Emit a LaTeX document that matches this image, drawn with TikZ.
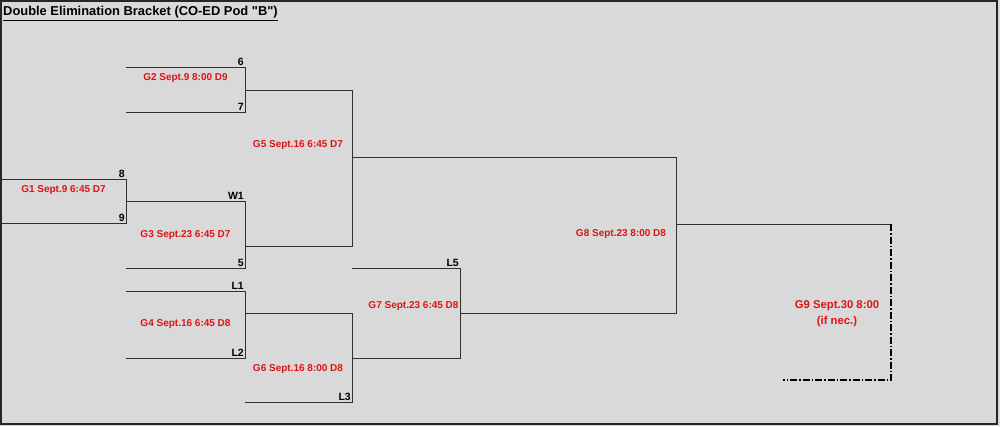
\documentclass[tikz,border=0pt]{standalone}
\usepackage{fontspec}
\setmainfont{Liberation Sans}
\newfontfamily\titlefont{Liberation Sans}
\definecolor{sheetgray}{HTML}{D9D9D9}
\definecolor{gamered}{HTML}{DC1414}
\definecolor{rulegray}{HTML}{303030}
\tikzset{
  game/.style={text=gamered,font=\bfseries\fontsize{10}{16}\selectfont,inner sep=0pt,align=center},
  seed/.style={font=\bfseries\fontsize{10.5}{12}\selectfont,anchor=south east,inner sep=1pt},
  bracket/.style={draw=rulegray,line width=1pt},
  ifnec/.style={draw=black,line width=1.3pt,dash pattern=on 7pt off 2pt on 1.5pt off 2pt}
}
\begin{document}
\begin{tikzpicture}[x=1pt,y=-1pt]
            \useasboundingbox (0,0) rectangle (1000,426);
            \fill[sheetgray] (0,0) rectangle (1000,426);
            \draw[line width=2pt,black!85] (1,1) rectangle (997,423.5);
            \node[anchor=west,font=\titlefont\bfseries\fontsize{12.9}{14}\selectfont,inner sep=0pt] (title) at (3,13.5) {\underline{Double Elimination Bracket (CO-ED Pod "B")}};
            % corners of the brackets
            \coordinate (g2a) at (126,67);  \coordinate (g2b) at (245,67);
            \coordinate (g2c) at (245,112); \coordinate (g2d) at (126,112);
            \coordinate (g1a) at (0,179);   \coordinate (g1b) at (126,179);
            \coordinate (g1c) at (126,223); \coordinate (g1d) at (0,223);
            \coordinate (g3a) at (126,201); \coordinate (g3b) at (245,201);
            \coordinate (g3c) at (245,268); \coordinate (g3d) at (126,268);
            \coordinate (g4a) at (126,291); \coordinate (g4b) at (245,291);
            \coordinate (g4c) at (245,358); \coordinate (g4d) at (126,358);
            \coordinate (g5a) at (245,90);  \coordinate (g5b) at (352,90);
            \coordinate (g5c) at (352,246); \coordinate (g5d) at (245,246);
            \coordinate (g6a) at (245,313); \coordinate (g6b) at (352,313);
            \coordinate (g6c) at (352,402); \coordinate (g6d) at (245,402);
            \coordinate (g7a) at (352,268); \coordinate (g7b) at (460,268);
            \coordinate (g7c) at (460,358); \coordinate (g7d) at (352,358);
            \coordinate (g8a) at (352,157); \coordinate (g8b) at (676,157);
            \coordinate (g8c) at (676,313); \coordinate (g8d) at (460,313);
            \coordinate (g9a) at (676,224); \coordinate (g9b) at (891,224);
            \coordinate (g9c) at (891,380); \coordinate (g9d) at (783,380);
            \foreach \g in {g1,g2,g3,g4,g5,g6,g7,g8}
              \draw[bracket] (\g a) -- (\g b) -- (\g c) -- (\g d);
            \draw[bracket] (g9a) -- (g9b);
            \draw[ifnec] (g9b) -- (g9c) -- (g9d);
            % games
            \node[game] (G1) at (63.5,190)  {G1 Sept.9 6:45 D7};
            \node[game] (G2) at (185.5,78)  {G2 Sept.9 8:00 D9};
            \node[game] (G3) at (185.5,235) {G3 Sept.23 6:45 D7};
            \node[game] (G4) at (185.5,324) {G4 Sept.16 6:45 D8};
            \node[game] (G5) at (298,145)   {G5 Sept.16 6:45 D7};
            \node[game] (G6) at (298,369)   {G6 Sept.16 8:00 D8};
            \node[game] (G7) at (413.5,306.5) {G7 Sept.23 6:45 D8};
            \node[game] (G8) at (621,234.5) {G8 Sept.23 8:00 D8};
            \node[game,font=\bfseries\fontsize{11.3}{16}\selectfont] (G9) at (837,314) {G9 Sept.30 8:00\\(if nec.)};
            % seeds
            \node[seed] (s6)  at (g2b) {6};
            \node[seed] (s7)  at (g2c) {7};
            \node[seed] (s8)  at (g1b) {8};
            \node[seed] (s9)  at (g1c) {9};
            \node[seed] (sW1) at (g3b) {W1};
            \node[seed] (s5)  at (g3c) {5};
            \node[seed] (sL1) at (g4b) {L1};
            \node[seed] (sL2) at (g4c) {L2};
            \node[seed] (sL3) at (g6c) {L3};
            \node[seed] (sL5) at (g7b) {L5};
        \end{tikzpicture}
\end{document}
